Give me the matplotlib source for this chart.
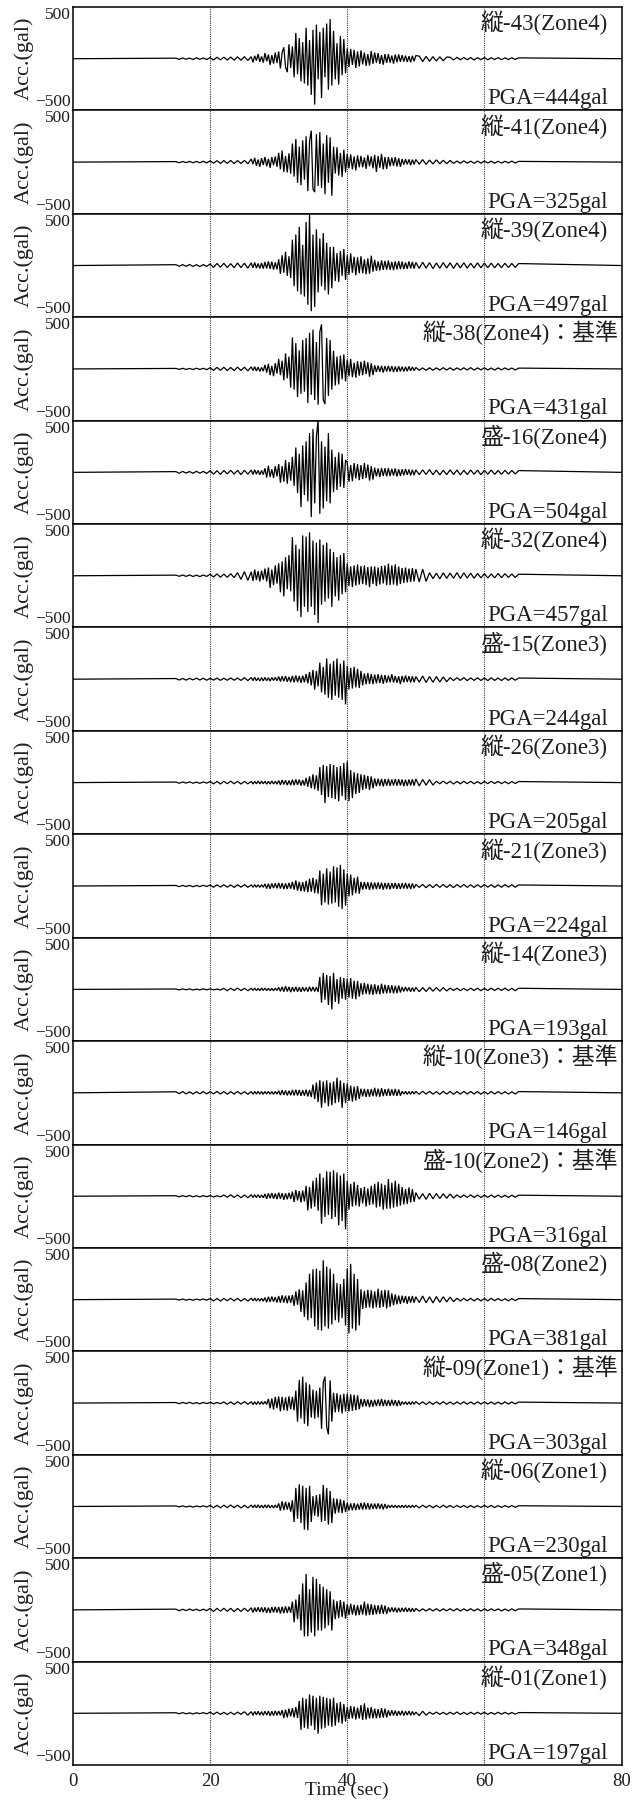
import numpy as np
import matplotlib
matplotlib.use('Agg')
import matplotlib.pyplot as plt

# ---------------- data ----------------
X_MIN, X_MAX = 0, 80
Y_LIM = 500
x_ticks = [0, 20, 40, 60, 80]
grid_times = [20, 40, 60]
# sampling of the read peak values: (start, end) of each segment in seconds
PRE_SPAN = (15.0, 25.5)    # every 0.5 s
CORE_SPAN = (26.0, 50.0)   # every 0.25 s (strong-motion part)
POST_SPAN = (50.5, 65.0)   # every 0.5 s

labels = ['縦-43(Zone4)', '縦-41(Zone4)', '縦-39(Zone4)', '縦-38(Zone4)：基準',
          '盛-16(Zone4)', '縦-32(Zone4)', '盛-15(Zone3)', '縦-26(Zone3)',
          '縦-21(Zone3)', '縦-14(Zone3)', '縦-10(Zone3)：基準', '盛-10(Zone2)：基準',
          '盛-08(Zone2)', '縦-09(Zone1)：基準', '縦-06(Zone1)', '盛-05(Zone1)',
          '縦-01(Zone1)']
pga_gal = [444, 325, 497, 431, 504, 457, 244, 205, 224, 193, 146, 316, 381, 303, 230, 348, 197]

# ---- 縦-43
t43_pre = [5,-6,7,-5,6,-7,8,-6,7,-8,10,-12,14,-11,15,-13,16,-14,18,-15,20,-17]
t43_core = [20,-35,28,-18,45,-30,22,-38, 55,-25,40,-60,35,-48,60,-42,
            70,-95,60,110,-80,-130,140,-90, 120,-180,250,-150,200,-220,160,-240,
            300,-260,180,-350,280,-444,330,-200, 260,-380,300,-180,340,-300,384,-260,
            270,-200,150,-250,220,-160,190,-140, 100,-80,95,-60,85,-90,70,-75,
            80,-55,60,-70,45,-65,75,-50, 60,-40,55,-50,35,-58,45,-40,
            45,-38,30,-48,40,-35,42,-30, 35,-28,30,-32,25,-35,28,-25, 30]
t43_post = [25,-28,22,-25,20,-22,18,-20,16,14,-12,13,-11,12,-10,11,-12,10,-9,11,-10,9,-8,10,-9,8,-8,9,-7,8]
# ---- 縦-41
t41_pre = [5,-6,6,-5,7,-6,7,-6,8,-7,12,-10,14,-13,15,-12,16,-14,15,-13,17,-15]
t41_core = [30,-20,42,-35,25,-45,38,-28, 50,-40,32,-55,48,-30,55,-45,
            90,-70,112,-95,60,-100,85,-112, 180,-140,224,-200,150,-224,210,-170,
            250,-280,200,304,-260,-290,270,-230, 290,-250,180,-310,260,-200,240,-325,
            150,-110,144,-130,90,-144,120,-100, 80,-60,75,-70,55,-80,65,-50,
            60,-50,45,-65,70,-40,55,-60, 70,-96,60,-55,80,-70,50,-65,
            50,-40,45,-35,48,-42,38,-45, 30,-25,28,-22,26,-30,24,-22, 25]
t41_post = [-20,24,-22,20,-18,22,-16,18,-15,16,-12,10,-11,12,-10,9,-11,10,-9,10,-8,9,-10,8,-9,8,-7,9,-8,7]
# ---- 縦-39
t39_pre = [8,-7,9,-8,10,-9,8,-10,9,-8,15,-18,20,-16,22,-19,18,-21,24,-20,22,-25]
t39_core = [26,-22,30,-25,20,-28,24,-30, 35,-28,40,-32,38,-40,30,-38,
            60,-80,100,-70,134,-100,90,-120, 250,-200,300,-250,374,-280,200,-300,
            420,-380,497,-442,300,-400,350,-260, 262,-200,314,-240,220,-280,180,-220,
            180,-150,120,-160,140,-100,160,-140, 100,-90,118,-70,85,-95,80,-75,
            90,-75,60,-85,70,-80,95,-60, 55,-50,40,-48,50,-42,45,-40,
            48,-42,35,-45,40,-38,42,-35, 38,-35,30,-32,40,-28,35,-30, 30]
t39_post = [-28,32,-26,28,-30,25,-27,29,-24,26,-28,25,-23,27,-25,22,-24,26,-22,24,-21,23,-22,20,-21,22,-19,20,-18,19]
# ---- 縦-38
t38_pre = [5,-4,6,-5,5,-6,7,-5,6,-7,12,-14,15,-13,16,-15,14,-16,18,-15,17,-18]
t38_core = [20,-16,22,-20,18,-24,15,-22, 40,-35,50,-60,30,-70,55,-45,
            96,-60,80,-110,150,-90,120,-180, 304,-200,250,-272,180,-240,280,-220,
            300,-330,350,-250,380,-300,260,-346, 360,431,-300,-340,300,-260,280,-200,
            176,-160,120,-150,128,-100,140,-120, 90,-70,96,-80,60,-85,75,-65,
            70,-60,80,-50,65,-75,55,-60, 35,-30,32,-28,30,-35,28,-25,
            30,-26,28,-30,24,-28,26,-24, 22,-25,20,-22,24,-18,20,-16, 14]
t38_post = [-12,10,-13,11,-12,10,-11,12,-10,11,-12,10,-9,11,-10,12,-11,10,-9,11,-10,9,-11,10,-9,10,-8,9,-10,8]
# ---- 盛-16
m16_pre = [7,-8,9,-7,8,-9,10,-8,9,-10,15,-18,16,-20,18,-15,20,-17,19,-22,20,-18]
m16_core = [22,-20,25,-18,20,-24,18,-22, 40,-50,64,-45,30,-55,60,-40,
            80,-100,60,-90,120,-110,100,-80, 150,-130,240,-200,180,-336,260,-220,
            300,-280,380,-432,420,-300,350,504, -400,300,-350,250,-280,380,-300,220,
            -192,150,-170,192,-140,180,-150,120, 96,-90,70,-85,90,-60,80,-75,
            70,-65,90,-55,75,-80,60,-70, 45,-40,38,-45,42,-35,40,-38,
            40,-36,34,-32,38,-40,30,-35, 30,-28,32,-25,28,-30,25,-27, 24]
m16_post = [-22,24,-20,26,-23,22,-25,20,-22,24,-20,22,-24,20,-21,23,-19,21,-22,20,-18,22,-20,18,-19,20,-17,18,-16,17]
# ---- 縦-32
t32_pre = [6,-5,7,-6,8,-7,6,-8,7,-6,15,-12,18,-14,16,-15,20,-18,30,-35,40,-45]
t32_core = [38,-50,60,-42,45,-55,50,-38, 70,-55,80,-118,60,-90,100,-75,
            120,-160,140,-200,180,-130,200,-150, 374,-250,300,-340,260,-400,390,-300,
            380,-350,420,-300,340,-380,320,-457, 350,-280,300,-250,320,-220,260,-300,
            230,-200,180,-240,200,-180,220,-160, 120,-100,90,-110,100,-95,110,-85,
            95,-80,100,-90,85,-110,90,-80, 90,-100,80,-85,95,-75,100,-90,
            118,-90,100,-85,110,-95,90,-80, 75,-70,80,-65,70,-60,75,-55, 65]
t32_post = [-60,65,-55,30,-28,25,-30,28,-25,26,-24,30,-26,28,-22,25,-24,22,-20,20,-22,18,-20,22,-18,20,-16,18,-17,15]
# ---- 盛-15
m15_pre = [6,-8,7,-9,8,-7,10,-8,9,-10,8,-9,10,-11,9,-10,12,-10,11,-12,15,-14]
m15_core = [16,-14,18,-15,13,-17,15,-16, 17,-15,14,-18,16,-13,18,-15,
            25,-22,28,-20,30,-25,22,-28, 32,-30,35,-28,30,-35,34,-30,
            50,-40,70,-60,90,-100,80,-70, 160,-128,120,-150,200,-180,150,-200,
            176,-160,200,-180,150,-200,180,-244, 128,-100,110,-90,120,-80,100,-85,
            80,-60,55,-50,60,-45,50,-48, 45,-40,48,-38,42,-45,40,-35,
            35,-30,48,-32,30,-35,28,-48, 32,-30,35,-28,30,-32,28,-30, 25]
m15_post = [-28,30,-32,26,-30,25,-28,22,-25,15,-13,14,-12,15,-14,13,-12,14,-13,12,-14,13,-12,11,-13,12,-11,12,-10,11]
# ---- 縦-26
t26_pre = [5,-6,6,-5,7,-6,5,-7,6,-5,10,-12,11,-13,12,-10,13,-11,12,-14,11,-12]
t26_core = [12,-14,13,-12,15,-13,14,-12, 13,-15,12,-14,15,-13,12,-15,
            20,-22,25,-18,22,-25,20,-24, 28,-25,30,-22,28,-30,25,-28,
            45,-40,60,-55,80,-65,70,-80, 150,-120,170,-198,160,-140,180,-150,
            170,-160,150,-180,160,-130,190,-170, 205,-180,120,-150,100,-110,90,-100,
            80,-70,75,-60,65,-70,60,-55, 40,-35,38,-32,36,-38,35,-30,
            35,-32,30,-28,34,-30,32,-28, 30,-35,28,-32,30,-28,32,-30, 35]
t26_post = [-32,30,-25,28,-24,13,-12,14,-11,12,-13,11,-12,13,-10,12,-11,10,-12,11,-10,12,-9,11,-10,9,-11,10,-9,10]
# ---- 縦-21
t21_pre = [5,-6,6,-5,6,-7,5,-6,7,-5,10,-12,11,-10,12,-11,10,-13,12,-11,13,-12]
t21_core = [11,-12,13,-12,11,-13,12,-12, 20,-25,22,-28,25,-20,26,-22,
            30,-25,28,-30,25,-28,30,-26, 40,-35,54,-45,40,-50,38,-54,
            50,-60,70,-55,80,-70,65,-75, 150,-186,120,-160,170,-180,140,-170,
            190,-160,180,-200,205,-224,160,-190, 120,-100,110,-90,80,-70,90,-75,
            40,-35,38,-30,36,-38,35,-32, 33,-30,35,-28,32,-35,30,-28,
            30,-32,28,-25,30,-28,26,-30, 28,-25,30,-26,24,-28,25,-22, 16]
t21_post = [-14,15,-17,14,-15,16,-13,15,-14,13,-16,14,-12,15,-13,12,-14,13,-12,14,-11,12,-13,11,-12,13,-10,12,-11,10]
# ---- 縦-14
t14_pre = [4,-5,5,-4,5,-6,4,-5,6,-4,5,-5,4,-6,10,-12,11,-10,12,-11,10,-12]
t14_core = [11,-10,12,-11,10,-12,13,-10, 12,-11,10,-12,11,-13,12,-10,
            20,-18,25,-22,32,-20,24,-26, 22,-20,25,-22,20,-24,22,-18,
            20,-22,25,-18,24,-20,22,-25, 120,-128,160,-100,140,-150,130,-193,
            160,-120,100,-140,120,-90,110,-100, 100,-80,110,-90,85,-95,80,-70,
            60,-50,64,-45,55,-50,48,-52, 50,-45,40,-48,55,-40,45,-38,
            42,-35,40,-38,35,-36,38,-30, 22,-20,24,-18,20,-22,18,-20, 20]
t14_post = [-22,18,-20,19,-17,18,-16,17,-15,12,-10,11,-12,10,-11,12,-10,11,-12,10,-11,12,-10,11,-10,12,-11,10,-12,11]
# ---- 縦-10
t10_pre = [10,-8,12,-10,9,-11,10,-9,12,-10,12,-10,13,-11,12,-13,11,-12,13,-12,11,-13]
t10_core = [12,-14,13,-12,14,-13,12,-14, 13,-12,14,-13,12,-14,13,-12,
            20,-22,25,-20,22,-25,20,-24, 28,-25,30,-26,28,-30,25,-28,
            30,-35,28,-40,80,-60,100,-90, 122,-144,110,-100,120,-130,100,-120,
            110,-100,146,-90,120,-146,96,-100, 90,-80,70,-85,60,-75,65,-60,
            40,-35,38,-40,35,-38,36,-32, 48,-35,40,-38,45,-32,36,-30,
            40,-30,34,-28,38,-30,32,-28, 15,-13,14,-15,13,-14,15,-12, 14]
t10_post = [-14,15,-12,14,-13,12,-15,14,-12,13,-14,12,-13,14,-12,13,-11,12,-13,11,-12,13,-11,12,-10,11,-12,10,-11,12]
# ---- 盛-10
m10_pre = [5,-6,6,-5,7,-6,5,-7,6,-5,6,-7,5,-6,12,-10,14,-12,13,-15,12,-14]
m10_core = [15,-13,14,-12,15,-14,12,-15, 22,-25,28,-20,30,-24,26,-28,
            35,-25,30,-35,28,-30,34,-26, 45,-55,60,-40,50,-60,55,-50,
            100,-138,90,-120,150,-100,180,-140, 220,-266,180,-200,240,-180,237,-220,
            250,-200,230,-280,200,-240,220,-320, 150,-130,120,-100,140,-90,110,-100,
            80,-70,90,-100,75,-85,100,-80, 120,-110,140,-100,122,-130,110,-120,
            166,-120,130,-110,150,-100,120,-90, 90,-80,70,-75,85,-60,70,-55, 35]
m10_post = [-28,25,-30,28,-25,26,-22,24,-20,22,-18,13,-12,12,-11,13,-12,11,-12,10,-11,12,-10,11,-10,9,-11,10,-9,10]
# ---- 盛-08
m08_pre = [5,-4,6,-5,4,-6,5,-4,6,-5,10,-12,11,-13,12,-10,14,-12,13,-15,12,-14]
m08_core = [14,-12,15,-13,12,-14,13,-15, 20,-25,28,-22,30,-20,25,-28,
            35,-30,42,-28,38,-35,40,-32, 45,-60,80,-50,100,-120,90,-166,
            166,-200,250,-180,294,-260,300,-294, 280,-300,381,-260,320,-280,300,-240,
            250,-200,160,-220,150,-180,200,-250, 300,-326,346,-280,250,-300,200,-250,
            100,-90,85,-80,95,-75,90,-85, 80,-75,106,-80,90,-70,95,-85,
            90,-70,60,-55,50,-45,40,-42, 38,-30,35,-40,32,-28,35,-30, 28]
m08_post = [-28,35,-30,28,-32,30,-25,28,-22,25,-20,13,-12,12,-11,13,-12,11,-12,10,-11,12,-10,11,-10,9,-11,10,-9,10]
# ---- 縦-09
t09_pre = [5,-6,6,-5,7,-6,5,-7,6,-5,6,-7,5,-6,10,-12,11,-13,12,-10,14,-12]
t09_core = [13,-15,12,-14,15,-13,14,-12, 15,-13,40,-50,45,-64,60,-50,
            64,-80,60,-70,55,-75,65,-60, 60,-70,120,-180,224,-150,256,-200,
            200,-224,180,-140,130,-150,120,-140, 150,-250,200,256,-230,-303,220,-180,
            100,-90,95,-85,80,-100,90,-80, 90,-80,85,-75,80,-70,75,-60,
            40,-35,38,-32,35,-40,30,-35, 32,-30,35,-28,40,-30,32,-28,
            30,-28,32,-25,28,-30,26,-24, 14,-12,13,-15,12,-14,13,-12, 14]
t09_post = [-13,12,-14,11,-13,12,-11,13,-12,10,-12,11,-10,12,-11,10,-11,12,-10,11,-9,10,-11,9,-10,11,-9,10,-8,9]
# ---- 縦-06
t06_pre = [5,-4,6,-5,4,-6,5,-4,6,-5,10,-12,11,-13,12,-10,14,-12,13,-15,12,-14]
t06_core = [14,-12,15,-13,16,-14,13,-15, 15,-13,16,-14,12,-15,14,-13,
            30,-40,50,-35,45,-30,40,-50, 60,-150,180,-120,214,-160,200,-224,
            180,-230,200,-150,100,-90,110,-100, 120,-150,208,-140,180,-176,150,-160,
            80,-70,75,-60,70,-65,60,-55, 35,-40,30,-38,32,-35,28,-30,
            35,-30,38,-28,32,-30,28,-25, 28,-25,30,-22,25,-28,24,-20,
            14,-12,13,-11,12,-13,11,-12, 12,-11,13,-12,10,-11,12,-10, 11]
t06_post = [-13,12,-10,11,-12,10,-11,12,-10,9,-11,10,-9,10,-11,9,-10,8,-9,10,-8,9,-10,8,-9,8,-7,9,-8,7]
# ---- 盛-05
m05_pre = [7,-8,6,-7,8,-6,7,-8,6,-7,14,-16,15,-13,16,-14,15,-17,14,-15,16,-14]
m05_core = [20,-25,22,-18,25,-20,24,-22, 25,-28,22,-30,28,-25,30,-26,
            28,-35,30,-32,35,-30,32,-28, 80,-120,100,-90,150,-200,256,-256,
            348,-256,200,-220,320,-256,300,-200, 250,-200,224,-180,200,-150,180,-200,
            100,-90,85,-80,95,-70,80,-85, 55,-50,60,-45,50,-55,45,-50,
            50,-45,80,-55,60,-50,55,-48, 48,-42,45,-40,50,-38,42,-40,
            25,-22,24,-20,22,-25,20,-22, 20,-18,22,-19,18,-20,17,-18, 14]
m05_post = [-12,10,-11,12,-10,11,-12,10,-9,11,-10,12,-11,10,-9,11,-10,9,-11,10,-9,10,-8,9,-10,8,-9,10,-8,9]
# ---- 縦-01
t01_pre = [5,-4,6,-5,4,-6,5,-4,6,-5,10,-9,11,-10,9,-11,10,-12,11,-10,15,-18]
t01_core = [16,-20,18,-15,20,-18,16,-19, 20,-18,22,-25,20,-22,24,-20,
            22,-20,30,-45,35,-40,45,-30, 50,-40,60,-45,120,-160,150,-140,
            140,-150,182,-120,170,-160,150,-197, 170,-150,160,-140,150,-120,140,-130,
            150,-120,100,-90,110,-100,90,-80, 60,-55,70,-50,65,-60,55,-50,
            80,-64,96,-60,55,-50,60,-48, 45,-48,40,-45,50,-42,45,-40,
            30,-25,28,-22,26,-24,22,-20, 25,-22,20,-18,22,-20,18,-16, 12]
t01_post = [-22,20,-18,10,-9,11,-10,9,-11,10,-9,12,-10,9,-11,10,-9,10,-8,9,-10,8,-9,10,-8,9,-8,7,-8,7]

series = [
    (t43_pre, t43_core, t43_post), (t41_pre, t41_core, t41_post),
    (t39_pre, t39_core, t39_post), (t38_pre, t38_core, t38_post),
    (m16_pre, m16_core, m16_post), (t32_pre, t32_core, t32_post),
    (m15_pre, m15_core, m15_post), (t26_pre, t26_core, t26_post),
    (t21_pre, t21_core, t21_post), (t14_pre, t14_core, t14_post),
    (t10_pre, t10_core, t10_post), (m10_pre, m10_core, m10_post),
    (m08_pre, m08_core, m08_post), (t09_pre, t09_core, t09_post),
    (t06_pre, t06_core, t06_post), (m05_pre, m05_core, m05_post),
    (t01_pre, t01_core, t01_post),
]

# ---------------- drawing ----------------
SERIF = ['Liberation Serif', 'Noto Sans CJK JP']
plt.rcParams['font.family'] = SERIF
plt.rcParams['axes.unicode_minus'] = True

W, H = 643, 1802
fig = plt.figure(figsize=(W / 100, H / 100), dpi=100)
left, right = 73 / W, 621.5 / W
top, bottom = 1 - 7 / H, 1 - 1765 / H
n = len(series)
h = (top - bottom) / n
TXT = '#1e1e1e'

for i, ((pre, core, post), lab, p) in enumerate(zip(series, labels, pga_gal)):
    ax = fig.add_axes([left, top - (i + 1) * h, right - left, h])
    t = np.concatenate(([X_MIN],
                        np.linspace(*PRE_SPAN, len(pre)),
                        np.linspace(*CORE_SPAN, len(core)),
                        np.linspace(*POST_SPAN, len(post)),
                        [X_MAX]))
    y = np.concatenate(([0], pre, core, post, [0])).astype(float)
    ax.plot(t, y, color='black', lw=0.9, zorder=3, solid_joinstyle='miter')
    ax.set_xlim(X_MIN, X_MAX)
    ax.set_ylim(-Y_LIM, Y_LIM)
    for g in grid_times:
        ax.axvline(g, color='#3a3a3a', lw=0.8, ls=(0, (1, 1)), zorder=1)
    for s in ax.spines.values():
        s.set_linewidth(1.1)
        s.set_color('black')
    ax.set_yticks([-Y_LIM, Y_LIM])
    ax.set_yticklabels(['\u2212%d' % Y_LIM, '%d' % Y_LIM], fontsize=12.5)
    for lbl, va in zip(ax.get_yticklabels(), ['bottom', 'top']):
        lbl.set_verticalalignment(va)
    ax.tick_params(axis='y', length=0, pad=1.5, colors=TXT)
    ax.set_xticks(x_ticks)
    if i == n - 1:
        ax.tick_params(axis='x', length=0, pad=6, labelsize=13.5, colors=TXT)
    else:
        ax.tick_params(axis='x', length=0, labelbottom=False)
    ax.text(-49 / 548.5, 0.5, 'Acc.(gal)', transform=ax.transAxes, rotation=90,
            ha='center', va='center', fontsize=16, color=TXT)
    xr = 0.994 if lab.endswith('基準') else 0.975
    ax.text(xr, 0.775, lab, transform=ax.transAxes, ha='right', va='baseline',
            fontsize=16.5, color=TXT)
    ax.text(0.975, 0.06, 'PGA=%dgal' % p, transform=ax.transAxes, ha='right',
            va='baseline', fontsize=16.5, color=TXT)

fig.text(347 / W, 1 - 1799 / H, 'Time (sec)', ha='center', va='bottom', fontsize=14,
         color=TXT)

fig.savefig('out.png', dpi=100)
